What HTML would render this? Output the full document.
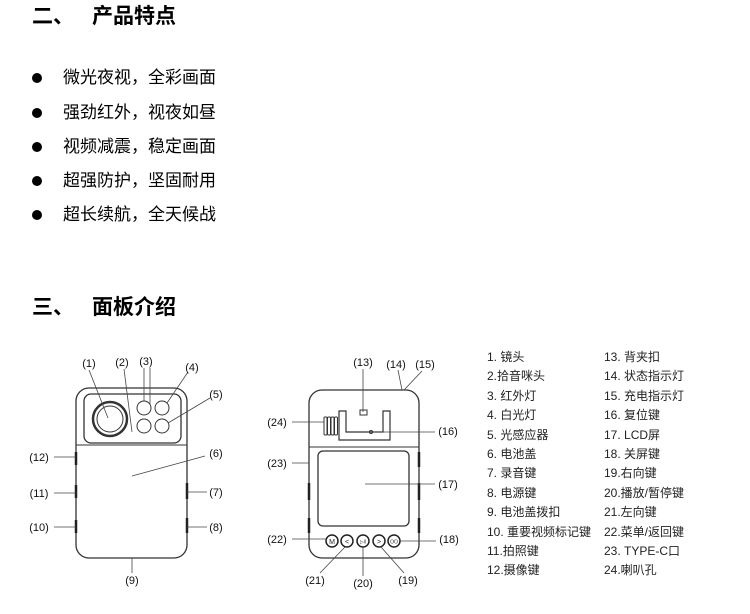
<!DOCTYPE html>
<html><head><meta charset="utf-8"><style>
body{margin:0;width:750px;height:614px;background:#fff;position:relative;overflow:hidden;font-family:"Liberation Sans","Noto Sans CJK SC",sans-serif;color:#000}
.a{position:absolute;white-space:nowrap}
.h{font-size:21px;font-weight:bold;line-height:24px}
.b{font-size:17px;line-height:20px}
.dot{position:absolute;width:10px;height:10px;border-radius:50%;background:#000}
.l{font-size:12px;line-height:14px;color:#222}
</style></head><body>
<div class="a h" style="left:32px;top:5px">二、</div>
<div class="a h" style="left:92px;top:5px">产品特点</div>
<div class="dot" style="left:32px;top:73px"></div><div class="a b" style="left:63px;top:68px">微光夜视，全彩画面</div>
<div class="dot" style="left:32px;top:108px"></div><div class="a b" style="left:63px;top:103px">强劲红外，视夜如昼</div>
<div class="dot" style="left:32px;top:142px"></div><div class="a b" style="left:63px;top:137px">视频减震，稳定画面</div>
<div class="dot" style="left:32px;top:176px"></div><div class="a b" style="left:63px;top:171px">超强防护，坚固耐用</div>
<div class="dot" style="left:32px;top:210px"></div><div class="a b" style="left:63px;top:205px">超长续航，全天候战</div>
<div class="a h" style="left:32px;top:296px">三、</div>
<div class="a h" style="left:92px;top:296px">面板介绍</div>

<svg class="a" style="left:0;top:0" width="750" height="614" font-family="Liberation Sans, sans-serif" font-size="11" fill="none" stroke="#333" stroke-width="1">
<!-- left device -->
<rect x="76" y="388" width="111" height="170" rx="13" stroke-width="1.3"/>
<rect x="84" y="394" width="97" height="49" rx="7" stroke-width="1.3"/>
<line x1="76" y1="445" x2="187" y2="445"/>
<circle cx="110" cy="419" r="17" stroke-width="2.5"/>
<circle cx="110" cy="419" r="13"/>
<circle cx="144" cy="408" r="7"/><circle cx="162" cy="408" r="7"/>
<circle cx="144" cy="426" r="7"/><circle cx="162" cy="426" r="7"/>
<g stroke="#222" stroke-width="2.5">
<line x1="76" y1="452" x2="76" y2="465"/><line x1="76" y1="485" x2="76" y2="498"/><line x1="76" y1="520" x2="76" y2="533"/>
<line x1="187" y1="483" x2="187" y2="499"/><line x1="187" y1="518" x2="187" y2="533"/>
</g>
<g stroke="#444" stroke-width="0.8">
<line x1="89" y1="370" x2="108" y2="418"/>
<line x1="124" y1="369" x2="132" y2="432"/>
<line x1="144" y1="368" x2="144" y2="401"/><line x1="150" y1="368" x2="150" y2="405"/>
<line x1="188" y1="372" x2="167" y2="403"/>
<line x1="210" y1="398" x2="168" y2="423"/>
<line x1="205" y1="456" x2="132" y2="476"/>
<line x1="54" y1="457" x2="76" y2="457"/><line x1="54" y1="493" x2="76" y2="493"/><line x1="54" y1="527" x2="76" y2="527"/>
<line x1="187" y1="492" x2="207" y2="492"/><line x1="187" y1="527" x2="207" y2="527"/>
<line x1="132" y1="558" x2="132" y2="573"/>
</g>
<!-- right device -->
<rect x="309" y="390" width="110" height="168" rx="13" stroke-width="1.3"/>
<line x1="309" y1="447" x2="419" y2="447"/>
<rect x="318" y="451" width="91" height="75" rx="5" stroke-width="1.3"/>
<path d="M339 411 H346 V432 H383 V411 H390 V440 H339 Z" stroke-width="1.2"/>
<rect x="360" y="410" width="7" height="5"/>
<circle cx="371" cy="432" r="1.5"/>
<g stroke-width="1"><rect x="324" y="417" width="3" height="18" rx="1"/><rect x="327.5" y="417" width="3" height="18" rx="1"/><rect x="331" y="417" width="3" height="18" rx="1"/><rect x="334.5" y="417" width="3" height="18" rx="1"/></g>
<g stroke="#222" stroke-width="2.5">
<line x1="419" y1="452" x2="419" y2="467"/><line x1="419" y1="483" x2="419" y2="500"/><line x1="419" y1="518" x2="419" y2="533"/>
<line x1="309" y1="483" x2="309" y2="500"/><line x1="309" y1="518" x2="309" y2="533"/>
</g>
<g stroke="#222" stroke-width="1.5">
<circle cx="332" cy="541" r="6"/><circle cx="347" cy="541" r="6"/><circle cx="363" cy="541" r="6"/><circle cx="379" cy="541" r="6"/><circle cx="394" cy="541" r="6"/>
</g>
<g fill="#222" stroke="none" font-size="7" text-anchor="middle">
<text x="332" y="544">M</text><text x="347" y="544">&lt;</text><text x="363" y="543.5" font-size="5">▷ǁ</text><text x="379" y="544">&gt;</text><text x="394" y="543.5" font-size="5">OO</text>
</g>
<g stroke="#444" stroke-width="0.8">
<line x1="363" y1="369" x2="363" y2="412"/>
<line x1="398" y1="370" x2="402" y2="390"/>
<line x1="422" y1="371" x2="404" y2="390"/>
<line x1="292" y1="422" x2="324" y2="422"/>
<line x1="373" y1="432" x2="435" y2="432"/>
<line x1="292" y1="463" x2="309" y2="463"/>
<line x1="365" y1="484" x2="435" y2="484"/>
<line x1="292" y1="539" x2="326" y2="539"/>
<line x1="400" y1="541" x2="436" y2="541"/>
<line x1="345" y1="547" x2="320" y2="573"/>
<line x1="363" y1="547" x2="363" y2="576"/>
<line x1="381" y1="547" x2="404" y2="573"/>
</g>
<g fill="#111" stroke="none" text-anchor="middle">
<text x="89" y="367">(1)</text><text x="122" y="366">(2)</text><text x="146" y="365">(3)</text><text x="192" y="371">(4)</text><text x="216" y="398">(5)</text>
<text x="216" y="457">(6)</text><text x="39" y="461">(12)</text><text x="39" y="497">(11)</text><text x="39" y="531">(10)</text>
<text x="216" y="496">(7)</text><text x="216" y="531">(8)</text><text x="132" y="584">(9)</text>
<text x="363" y="366">(13)</text><text x="396" y="368">(14)</text><text x="425" y="368">(15)</text>
<text x="277" y="426">(24)</text><text x="448" y="435">(16)</text><text x="277" y="467">(23)</text><text x="448" y="488">(17)</text>
<text x="277" y="543">(22)</text><text x="449" y="543">(18)</text><text x="315" y="584">(21)</text><text x="363" y="587">(20)</text><text x="408" y="584">(19)</text>
</g>
</svg>

<div class="a l" style="left:487px;top:348px;line-height:19.4px">1. 镜头<br>2.拾音咪头<br>3. 红外灯<br>4. 白光灯<br>5. 光感应器<br>6. 电池盖<br>7. 录音键<br>8. 电源键<br>9. 电池盖拨扣<br>10. 重要视频标记键<br>11.拍照键<br>12.摄像键</div>
<div class="a l" style="left:604px;top:348px;line-height:19.4px">13. 背夹扣<br>14. 状态指示灯<br>15. 充电指示灯<br>16. 复位键<br>17. LCD屏<br>18. 关屏键<br>19.右向键<br>20.播放/暂停键<br>21.左向键<br>22.菜单/返回键<br>23. TYPE-C口<br>24.喇叭孔</div>
</body></html>
